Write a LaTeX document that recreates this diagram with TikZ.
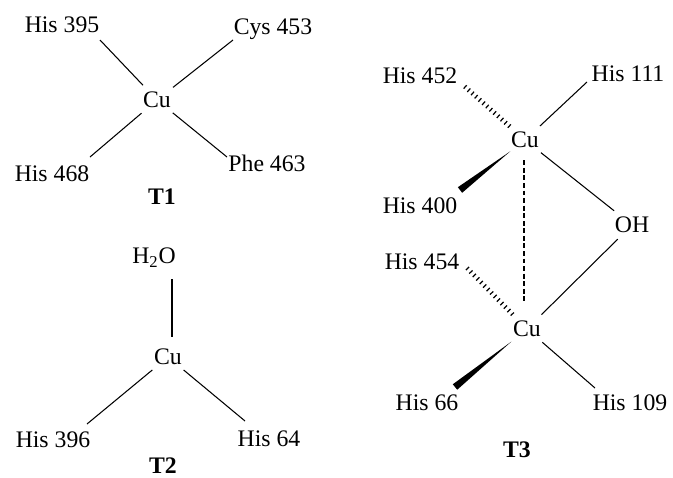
\documentclass[tikz,border=0pt]{standalone}
\usepackage{fontspec}
\setmainfont{Liberation Serif}
\usetikzlibrary{calc}
\begin{document}
\begin{tikzpicture}[x=0.02cm,y=-0.02cm,font=\fontsize{13.5}{16}\selectfont,
	cu/.style={circle,minimum size=0.8cm,inner sep=0pt},
	bond/.style={line width=0.6pt},
	hashbond/.style={line width=2.6pt,dash pattern=on 0.7pt off 2.1pt},
	cubond/.style={line width=0.8pt,dash pattern=on 2.8pt off 1.5pt}]
			\useasboundingbox (0,0) rectangle (673,477);
			\node[cu] (cu1) at (157,100) {Cu};
			\node (h395) at (62,25) {His 395};
			\node (c453) at (273,29) {Cys 453};
			\node (h468) at (52,174) {His 468};
			\node (p463) at (267,163) {Phe 463};
			\node (t1) at (162,197) {\textbf{T1}};
			\coordinate (e395) at (100,40);
			\coordinate (e453) at (233,40);
			\coordinate (e468) at (90,157);
			\coordinate (e463) at (227,157);
			\draw[bond] (cu1) -- (e395);
			\draw[bond] (cu1) -- (e453);
			\draw[bond] (cu1) -- (e468);
			\draw[bond] (cu1) -- (e463);
			\node (h2o) at (154,258) {H\textsubscript{2}O};
			\node[cu] (cu2) at (168,357) {Cu};
			\node (h396) at (53,440) {His 396};
			\node (h64) at (269,439) {His 64};
			\node (t2) at (163,466) {\textbf{T2}};
			\coordinate (eh2o) at (172,279);
			\coordinate (e396) at (87,424);
			\coordinate (e64) at (245,421);
			\draw[bond] (eh2o) -- (eh2o |- cu2.north);
			\draw[bond] (cu2) -- (e396);
			\draw[bond] (cu2) -- (e64);
			\node[cu] (cu3a) at (525,140) {Cu};
			\node[cu] (cu3b) at (527,329) {Cu};
			\node (h452) at (420,76) {His 452};
			\node (h111) at (628,74) {His 111};
			\node (h400) at (420,206) {His 400};
			\node (oh) at (632,225) {OH};
			\node (h454) at (422,262) {His 454};
			\node (h66) at (427,403) {His 66};
			\node (h109) at (630,403) {His 109};
			\node (t3) at (517,450) {\textbf{T3}};
			\coordinate (e452) at (463,85);
			\coordinate (e111) at (587,82);
			\coordinate (e400) at (460,190);
			\coordinate (e454) at (467,268);
			\coordinate (e66) at (455,387);
			\coordinate (e109) at (595,388);
			\coordinate (w400) at ($(cu3a)!0.37cm!(e400)$);
			\coordinate (w66) at ($(cu3b)!0.4cm!(e66)$);
			\draw[hashbond] (cu3a) -- (e452);
			\draw[bond] (cu3a) -- (e111);
			\fill (w400) -- ($(e400)!2pt!90:(w400)$) -- ($(e400)!2pt!-90:(w400)$) -- cycle;
			\draw[bond] (cu3a) -- (oh);
			\draw[cubond,shorten >=4pt] (cu3a.south -| 524,0) -- (cu3b.north -| 524,0);
			\draw[hashbond] (cu3b) -- (e454);
			\draw[bond] (cu3b) -- (oh);
			\fill (w66) -- ($(e66)!2pt!90:(w66)$) -- ($(e66)!2pt!-90:(w66)$) -- cycle;
			\draw[bond] (cu3b) -- (e109);
		\end{tikzpicture}
\end{document}
